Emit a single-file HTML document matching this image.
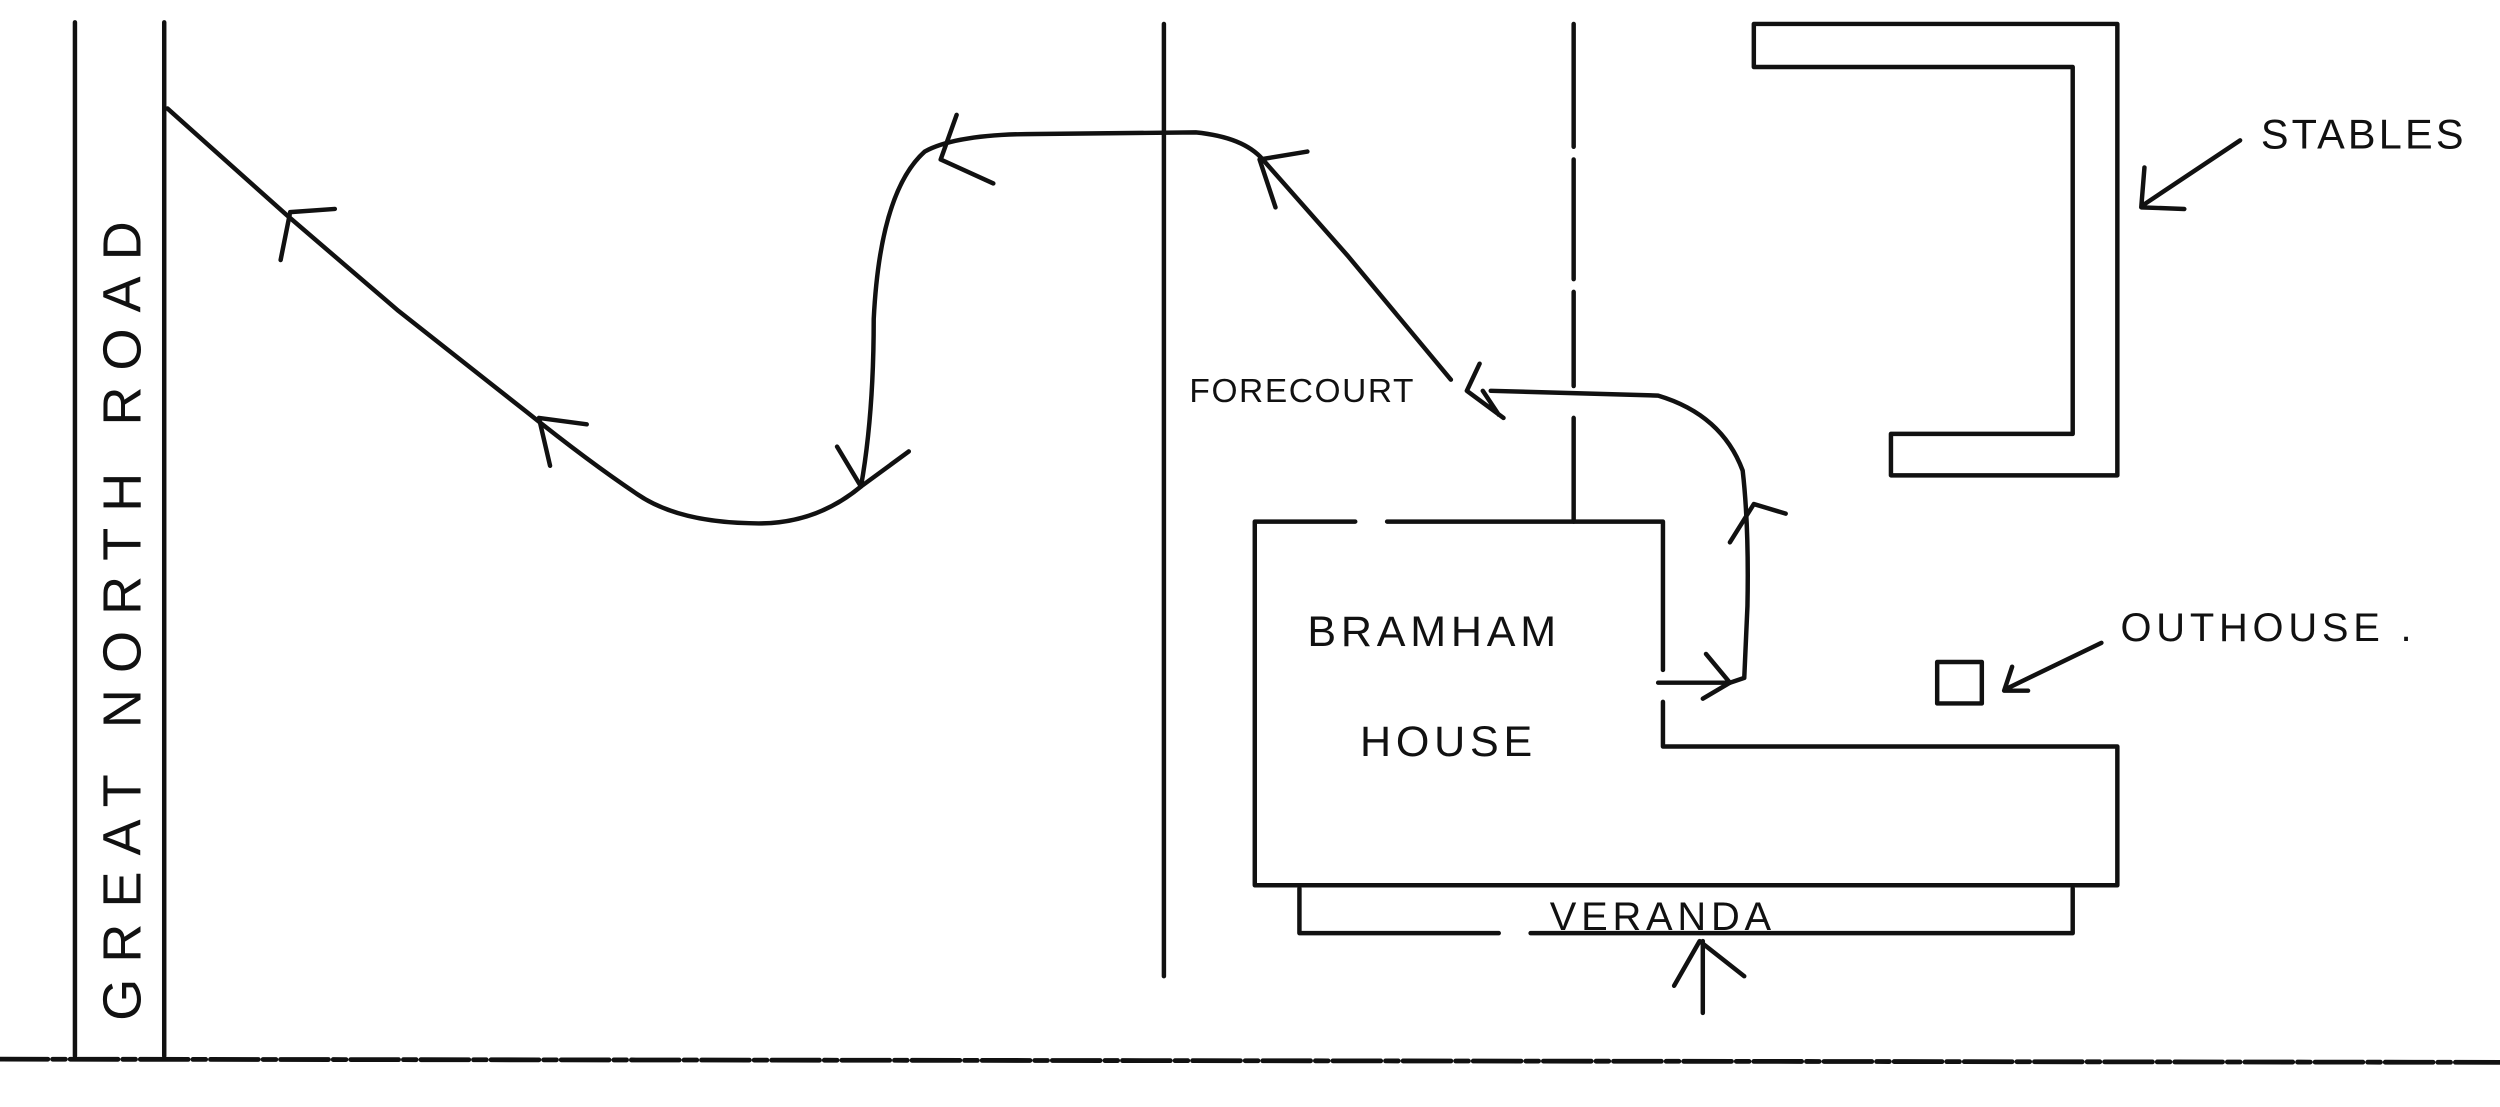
<!DOCTYPE html>
<html><head><meta charset="utf-8"><style>
html,body{margin:0;padding:0;background:#fff;}
svg{display:block;}
text{font-family:"Liberation Sans",sans-serif;fill:#111;}
</style></head><body>
<svg width="2500" height="1107" viewBox="0 0 1568 694" preserveAspectRatio="none" xmlns="http://www.w3.org/2000/svg">
<g stroke="#111" stroke-width="2.8" fill="none" stroke-linecap="round" stroke-linejoin="round">
<line x1="47" y1="14" x2="47" y2="662"/>
<line x1="103" y1="14" x2="103" y2="662"/>
<line x1="0" y1="664" x2="1568" y2="666" stroke-dasharray="30 3 8 3" stroke-width="3"/>
<line x1="730" y1="15" x2="730" y2="612"/>
<line x1="987" y1="15" x2="987" y2="92"/>
<line x1="987" y1="100" x2="987" y2="175"/>
<line x1="987" y1="183" x2="987" y2="242"/>
<line x1="987" y1="262" x2="987" y2="327"/>
<path d="M105 68 L180 135 L250 195 L330 258 Q370 290 400 310 Q425 327 470 328 Q510 330 540 305 Q548 260 548 200 Q552 120 580 95 Q600 84 650 84 L750 83 Q780 86 792 100 L845 160 L910 238"/>
<path d="M176 163 L182 133 L210 131"/>
<path d="M345 292 L338 262 L368 266"/>
<path d="M525 280 L540 305 L570 283"/>
<path d="M600 72 L590 100 L623 115"/>
<path d="M800 130 L790 100 L820 95"/>
<path d="M928 228 L920 245 L943 262 M930 245 L940 260"/>
<path d="M935 245 L1040 248 Q1080 260 1093 295 Q1097 330 1096 380 L1094 425 L1085 428"/>
<path d="M1085 340 L1100 316 L1120 322"/>
<path d="M1040 428 L1085 428 M1070 410 L1085 428 L1068 438"/>
<path d="M1100 15 L1328 15 L1328 298 L1186 298 L1186 272 L1300 272 L1300 42 L1100 42 Z"/>
<path d="M1405 88 L1345 128 M1345 105 L1343 130 L1370 131"/>
<path d="M850 327 L787 327 L787 555 L1328 555 L1328 468 L1043 468 L1043 440"/>
<path d="M870 327 L1043 327 L1043 420"/>
<path d="M815 557 L815 585 L940 585 M960 585 L1300 585 L1300 557"/>
<rect x="1215" y="415" width="28" height="26"/>
<path d="M1318 403 L1258 432 M1262 418 L1257 433 L1272 433"/>
<path d="M1068 635 L1068 590 M1050 618 L1066 590 L1094 612"/>
</g>
<text x="0" y="0" transform="translate(88,640) rotate(-90)" font-size="34" letter-spacing="10">GREAT NORTH ROAD</text>
<text x="746" y="252" font-size="21" letter-spacing="1">FORECOURT</text>
<text x="1418" y="93" font-size="26" letter-spacing="2">STABLES</text>
<text x="1330" y="402" font-size="25" letter-spacing="3">OUTHOUSE .</text>
<text x="820" y="405" font-size="27" letter-spacing="3">BRAMHAM</text>
<text x="853" y="474" font-size="27" letter-spacing="3">HOUSE</text>
<text x="972" y="583" font-size="25" letter-spacing="3">VERANDA</text>
</svg>
</body></html>
